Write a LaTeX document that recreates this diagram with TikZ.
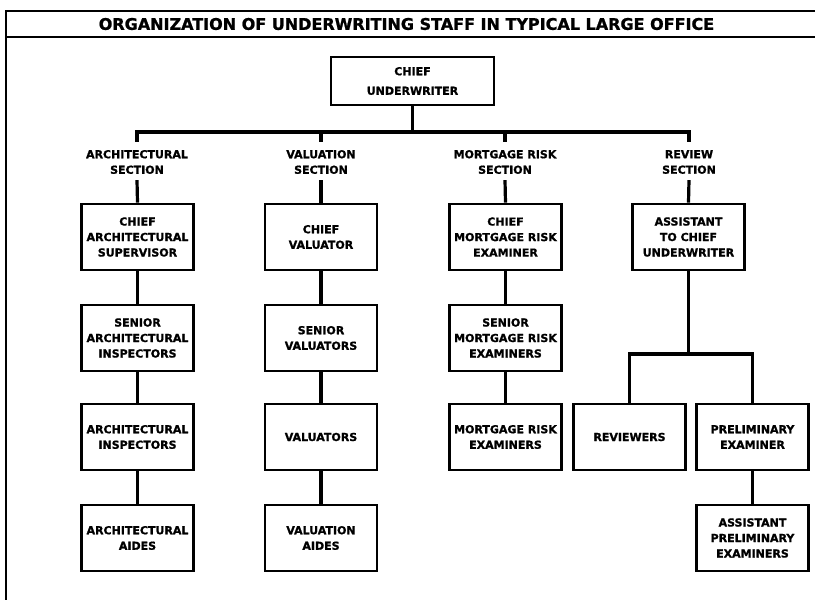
\documentclass[tikz,border=0pt]{standalone}
\usepackage{fontspec}
\setmainfont{DejaVu Sans}[BoldFeatures={FakeBold=1.2}]
\begin{document}
\begin{tikzpicture}[x=1pt,y=-1pt,
  every node/.style={font=\bfseries\fontsize{11}{15.5}\selectfont, align=center, text=black},
  post/.style={draw, line width=2.6pt, minimum width=112pt, minimum height=66pt, inner sep=2pt},
  sect/.style={inner sep=6pt},
  link/.style={line width=3.2pt},
  rule/.style={line width=2.2pt},
]
\useasboundingbox (0,0) rectangle (815,600);

% outer frame and title band
\coordinate (ftl) at (6,11);
\coordinate (ftr) at (815,11);
\coordinate (fml) at (6,37);
\coordinate (fmr) at (815,37);
\coordinate (fbl) at (6,600);
\draw[rule] (ftr) -- (ftl) -- (fbl);
\draw[rule] (fml) -- (fmr);
\node (title) at (406.5,24) {\fontsize{16}{18}\selectfont ORGANIZATION OF UNDERWRITING STAFF IN TYPICAL LARGE OFFICE};

% head of the office
\node[post, minimum width=163pt, minimum height=48pt, font=\bfseries\fontsize{11}{19.5}\selectfont] (chief) at (412.5,81) {CHIEF\\UNDERWRITER};

% sections
\node[sect] (secA) at (137,162) {ARCHITECTURAL\\SECTION};
\node[sect] (secV) at (321,162) {VALUATION\\SECTION};
\node[sect] (secM) at (505,162) {MORTGAGE RISK\\SECTION};
\node[sect] (secR) at (689,162) {REVIEW\\SECTION};

% architectural section
\node[post] (a1) at (137.5,237) {CHIEF\\ARCHITECTURAL\\SUPERVISOR};
\node[post] (a2) at (137.5,338) {SENIOR\\ARCHITECTURAL\\INSPECTORS};
\node[post] (a3) at (137.5,437) {ARCHITECTURAL\\INSPECTORS};
\node[post] (a4) at (137.5,538) {ARCHITECTURAL\\AIDES};

% valuation section
\node[post] (v1) at (321,237) {CHIEF\\VALUATOR};
\node[post] (v2) at (321,338) {SENIOR\\VALUATORS};
\node[post] (v3) at (321,437) {VALUATORS};
\node[post] (v4) at (321,538) {VALUATION\\AIDES};

% mortgage risk section
\node[post] (m1) at (505.5,237) {CHIEF\\MORTGAGE RISK\\EXAMINER};
\node[post] (m2) at (505.5,338) {SENIOR\\MORTGAGE RISK\\EXAMINERS};
\node[post] (m3) at (505.5,437) {MORTGAGE RISK\\EXAMINERS};

% review section
\node[post] (r1) at (688.5,237) {ASSISTANT\\TO CHIEF\\UNDERWRITER};
\node[post] (r2) at (629.5,437) {REVIEWERS};
\node[post] (r3) at (752.5,437) {PRELIMINARY\\EXAMINER};
\node[post] (r4) at (752.5,538) {ASSISTANT\\PRELIMINARY\\EXAMINERS};

% connectors
\coordinate (bus) at (412.5,132);
\coordinate (busL) at (137,132);
\coordinate (busR) at (689,132);
\draw[link] (chief.south) -- (bus);
\draw[link, line cap=rect] (busL) -- (busR);
\foreach \s in {secA,secV,secM,secR}
  \draw[link] (\s.north |- bus) -- ([yshift=2pt]\s.north);
\draw[link] (secA.south) -- (a1.north);
\draw[link] (secV.south) -- (v1.north);
\draw[link] (secM.south) -- (m1.north);
\draw[link] (secR.south) -- (r1.north);
\draw[link] (a1) -- (a2) (a2) -- (a3) (a3) -- (a4);
\draw[link] (v1) -- (v2) (v2) -- (v3) (v3) -- (v4);
\draw[link] (m1) -- (m2) (m2) -- (m3);
\coordinate (rbus) at (688.5,354);
\draw[link] (r1.south) -- (rbus);
\draw[link] (r2.north) |- (rbus) -| (r3.north);
\draw[link] (r3) -- (r4);
\end{tikzpicture}
\end{document}
